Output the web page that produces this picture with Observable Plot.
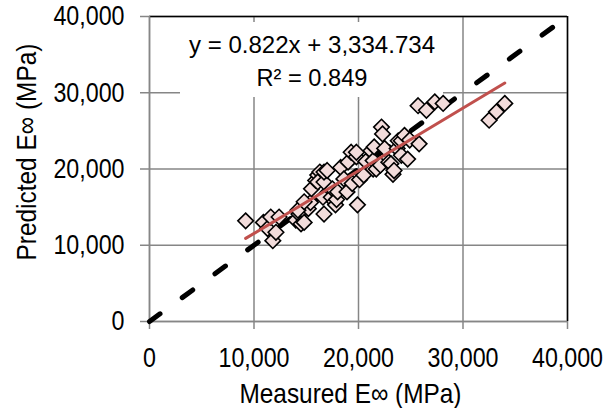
<!DOCTYPE html>
<html>
<head>
<meta charset="utf-8">
<script src="https://cdn.jsdelivr.net/npm/d3@7"></script>
<script src="https://cdn.jsdelivr.net/npm/@observablehq/plot@0.6"></script>
<style>
  html, body { margin: 0; padding: 0; background: #fff; }
  #chart { width: 604px; height: 408px; }
</style>
</head>
<body>
<div id="chart"></div>
<script>
// ---- data ----
const measured = [
  9200, 10900, 11300, 11600, 11800, 12100, 12400, 14000, 14300, 14500,
  14800, 15200, 15400, 14200, 14800, 15500, 15900, 16100, 16300, 16100,
  16600, 16700, 16700, 16700, 17000, 17400, 17500, 17700, 17800, 17900,
  18000, 18300, 18600, 18900, 19000, 19300, 19400, 19800, 19800, 19900,
  20100, 20500, 20700, 21200, 21400, 21400, 21500, 21700, 22100, 22200,
  22300, 22500, 22900, 23100, 23300, 23400, 23700, 23800, 24100, 24100,
  24400, 24700, 24900, 25800, 25700, 26500, 27300, 28100, 32500, 33200,
  34000
];
const predicted = [
  13200, 13000, 12200, 13700, 10600, 11700, 13700, 13300, 14100, 12800,
  13000, 14800, 15600, 14600, 15700, 17400, 18500, 19200, 19600, 18300,
  16300, 14100, 18300, 19600, 19800, 16300, 17400, 15700, 15300, 16000,
  17000, 20200, 18700, 17000, 20900, 22200, 18100, 21600, 22200, 15300,
  18600, 19200, 21000, 22400, 20000, 21100, 22900, 20000, 20500, 25500,
  24600, 22700, 20900, 20700, 19300, 19800, 22700, 23700, 21800, 23700,
  24400, 21300, 23800, 23300, 28300, 27700, 28800, 28600, 26400, 27500,
  28600
];
const axisTicks = [0, 10000, 20000, 30000, 40000];
const diagonalEnds = [0, 39000];
const trendSlope = 0.822;
const trendIntercept = 3334.734;
const trendR2 = 0.849;
const xTitle = "Measured E∞ (MPa)";
const yTitle = "Predicted E∞ (MPa)";

// ---- tables built from the arrays ----
const points = measured.map((m, i) => ({x: m, y: predicted[i]}));
const diagonal = diagonalEnds.map(v => ({x: v, y: v}));
const trendX = [d3.min(measured), d3.max(measured)];
const trend = trendX.map(v => ({x: v, y: trendSlope * v + trendIntercept}));
const eqLine1 = `y = ${d3.format(".3f")(trendSlope)}x + ${d3.format(",.3f")(trendIntercept)}`;
const eqLine2 = `R² = ${d3.format(".3f")(trendR2)}`;

const FONT = "'Liberation Sans', Arial, sans-serif";
const GRID = "#868686";
const fmt = d3.format(",");

// annotation box (white background behind the equation), pixel layout
function equationBox(index, scales, values, dimensions) {
  const g = d3.create("svg:g");
  const left = dimensions.marginLeft + 31, top = dimensions.marginTop + 6;
  g.append("rect").attr("x", left).attr("y", top).attr("width", 263).attr("height", 75).attr("fill", "#fff");
  const cx = left + 132;
  g.append("text").attr("class", "eq1").attr("x", cx).attr("y", top + 31).attr("text-anchor", "middle")
    .attr("font-size", 24).attr("font-family", FONT).attr("fill", "#000").text(eqLine1);
  g.append("text").attr("class", "eq2").attr("x", cx).attr("y", top + 64).attr("text-anchor", "middle")
    .attr("font-size", 24).attr("font-family", FONT).attr("fill", "#000").text(eqLine2);
  return g.node();
}

const chart = Plot.plot({
  width: 604,
  height: 408,
  marginLeft: 149,
  marginRight: 37,
  marginTop: 16,
  marginBottom: 87,
  style: {fontFamily: FONT, fontSize: "28px", color: "#000", background: "#fff", overflow: "visible"},
  x: {domain: [0, 40000]},
  y: {domain: [0, 40000]},
  marks: [
    Plot.gridX(axisTicks, {stroke: GRID, strokeOpacity: 1, strokeWidth: 1.5}),
    Plot.gridY(axisTicks, {stroke: GRID, strokeOpacity: 1, strokeWidth: 1.5}),
    Plot.ruleY([axisTicks[axisTicks.length - 1]], {stroke: "#000", strokeWidth: 1.5}),
    Plot.ruleX([axisTicks[axisTicks.length - 1]], {stroke: "#000", strokeWidth: 1.5}),
    equationBox,
    Plot.ruleY([0], {stroke: GRID, strokeWidth: 1.5}),
    Plot.ruleX([0], {stroke: GRID, strokeWidth: 1.5}),
    Plot.axisX({ticks: axisTicks, tickFormat: fmt, tickSize: 8, tickPadding: 18, stroke: GRID, strokeWidth: 1.5, label: null, fontSize: 28}),
    Plot.axisY({ticks: axisTicks, tickFormat: fmt, tickSize: 9, tickPadding: 16, stroke: GRID, strokeWidth: 1.5, label: null, fontSize: 28}),
    Plot.line(diagonal, {x: "x", y: "y", stroke: "#000", strokeWidth: 5, strokeDasharray: "13,27.5", strokeLinecap: "round"}),
    Plot.dot(points, {x: "x", y: "y", symbol: "diamond2", r: 7, fill: "#f2dcdb", stroke: "#000", strokeWidth: 1.6}),
    Plot.line(trend, {x: "x", y: "y", stroke: "#c0504d", strokeWidth: 3}),
    Plot.text([xTitle], {frameAnchor: "bottom", text: d => d, dx: -8, dy: 73, fontSize: 28, textAnchor: "middle", lineAnchor: "middle", fill: "#000", className: "xtitle"}),
    Plot.text([yTitle], {frameAnchor: "left", text: d => d, rotate: -90, dx: -122, dy: -17, fontSize: 28, textAnchor: "middle", lineAnchor: "middle", fill: "#000", className: "ytitle"})
  ]
});
document.getElementById("chart").appendChild(chart);

// condense the text horizontally like the narrow font of the reference
function condense(el, width) {
  el.setAttribute("textLength", width);
  el.setAttribute("lengthAdjust", "spacingAndGlyphs");
}
chart.querySelectorAll('g[aria-label="x-axis tick label"] text, g[aria-label="y-axis tick label"] text').forEach(t => {
  condense(t, t.getComputedTextLength() * 0.83);
});
chart.querySelectorAll(".xtitle text").forEach(t => condense(t, 222));
chart.querySelectorAll(".ytitle text").forEach(t => condense(t, 217));
chart.querySelectorAll("text.eq1").forEach(t => condense(t, 246));
chart.querySelectorAll("text.eq2").forEach(t => condense(t, 111));
</script>
</body>
</html>
